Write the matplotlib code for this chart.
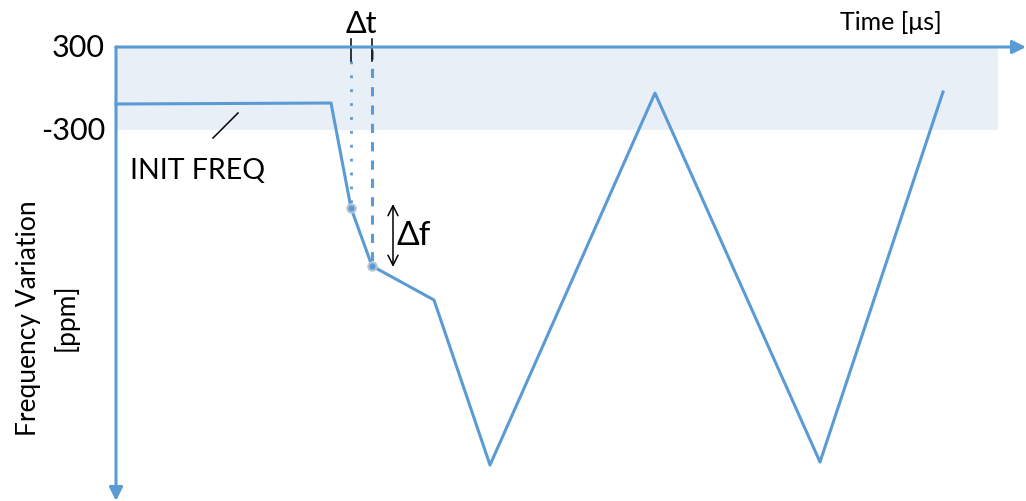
import matplotlib.pyplot as plt
import numpy as np

# Frequency profile (time in us, frequency variation in ppm)
time_us = [0.0, 21.5, 23.5, 25.6, 31.8, 37.4, 53.9, 70.4, 82.7]
freq_ppm = [-112, -105, -864, -1283, -1529, -2722, -33, -2700, -25]
band_ppm = [-300, 300]
ytick_vals = [300, -300]
ytick_labels = ["300", "-300"]
blue = "#5B9BD5"

plt.rcParams['font.family'] = ['Lato', 'DejaVu Sans']

fig = plt.figure(figsize=(10.26, 5.02), dpi=100)
ax = fig.add_axes([0, 0, 1, 1])
ax.set_xlim(-11.6, 91.0)
ax.set_ylim(-2982, 647)
ax.axis('off')

# tolerance band
ax.fill_between([0, 88.2], band_ppm[0], band_ppm[1], color="#E9EFF7", lw=0, zorder=0)

# axes with arrows
ax.annotate("", xy=(91.0, 300), xytext=(0, 300),
            arrowprops=dict(arrowstyle="-|>", color=blue, lw=2.2, mutation_scale=20,
                            shrinkA=0, shrinkB=0))
ax.annotate("", xy=(0, -2982), xytext=(0, 300),
            arrowprops=dict(arrowstyle="-|>", color=blue, lw=2.2, mutation_scale=20,
                            shrinkA=0, shrinkB=0))

for v, lab in zip(ytick_vals, ytick_labels):
    ax.text(-1.1, v, lab, ha="right", va="center", fontsize=22)

# frequency curve
ax.plot(time_us, freq_ppm, color=blue, lw=2.2, zorder=3)

# sample points
t1, t2 = time_us[2], time_us[3]
f1, f2 = freq_ppm[2], freq_ppm[3]
ax.plot([t1, t2], [f1, f2], "o", color=blue, ms=6, mec="#B8C4D0", mew=1.5, zorder=4)

# delta t guides
ax.plot([t1, t1], [200, f1], color=blue, lw=2, ls=(0, (1, 4)), zorder=2)
ax.plot([t2, t2], [280, f2], color=blue, lw=2.2, ls=(0, (3, 3)), zorder=2)
for t in (t1, t2):
    ax.plot([t, t], [358, 200], color="black", lw=1.1)
ax.text((t1 + t2) / 2, 470, "Δt", ha="center", va="center", fontsize=22)

# delta f arrow
ax.annotate("", xy=(27.7, -1290), xytext=(27.7, -835),
            arrowprops=dict(arrowstyle="<->", color="black", lw=1.1, mutation_scale=18,
                            shrinkA=0, shrinkB=0))
ax.text(28.0, -1060, "Δf", ha="left", va="center", fontsize=24)

# init freq label
ax.plot([9.7, 12.2], [-358, -177], color="black", lw=1.1)
ax.text(1.4, -592, "INIT FREQ", ha="left", va="center", fontsize=20.5)

ax.text(77.5, 485, "Time [μs]", ha="center", va="center", fontsize=18)
ax.text(-8.7, -1650, "Frequency Variation", ha="center", va="center",
        rotation=90, fontsize=19)
ax.text(-5.0, -1650, "[ppm]", ha="center", va="center",
        rotation=90, fontsize=19)

fig.savefig("out.png", dpi=100)
